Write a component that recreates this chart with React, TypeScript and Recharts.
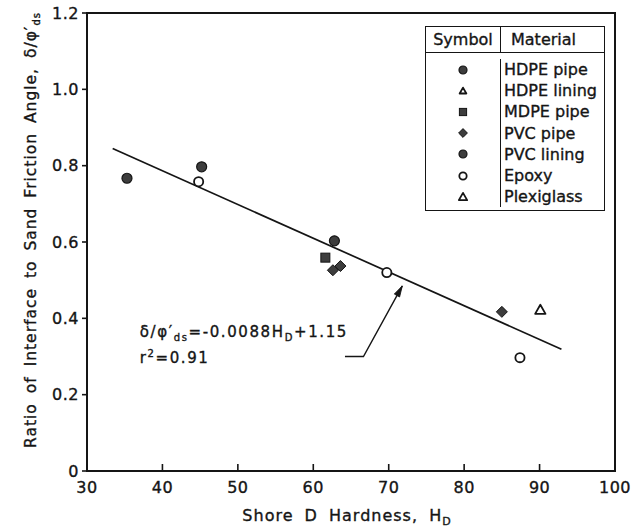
import {
  Legend,
  ReferenceArea,
  ReferenceDot,
  ReferenceLine,
  Scatter,
  ScatterChart,
  XAxis,
  YAxis,
} from 'recharts';

type Pt = { x: number; y: number };
type Kind = 'disc' | 'tri' | 'square' | 'diamond' | 'ring' | 'openTri' | 'smallTri';

const FONT = '"DejaVu Sans", sans-serif';
const INK = '#151515';
const GREY = '#3d3d3d';

// values: Shore D hardness vs delta / phi'ds
const hdpePipe: Pt[] = [{ x: 62.8, y: 0.603 }];
const hdpeLining: Pt[] = [];
const mdpePipe: Pt[] = [{ x: 61.6, y: 0.559 }];
const pvcPipe: Pt[] = [
  { x: 62.6, y: 0.526 },
  { x: 63.6, y: 0.537 },
  { x: 85.0, y: 0.417 },
];
const pvcLining: Pt[] = [
  { x: 35.3, y: 0.767 },
  { x: 45.2, y: 0.797 },
];
const epoxy: Pt[] = [
  { x: 44.8, y: 0.758 },
  { x: 69.75, y: 0.52 },
  { x: 87.4, y: 0.297 },
];
const plexiglass: Pt[] = [{ x: 90.1, y: 0.422 }];

// regression line end points and the arrow pointing at it
const fitLine: Pt[] = [
  { x: 33.4, y: 0.845 },
  { x: 92.9, y: 0.319 },
];
const arrowPath: Pt[] = [
  { x: 64.2, y: 0.3 },
  { x: 66.65, y: 0.3 },
  { x: 71.8, y: 0.485 },
];
const equationAt: Pt = { x: 37.0, y: 0.364 };

const xTicks = [30, 40, 50, 60, 70, 80, 90, 100];
const yTicks = [0, 0.2, 0.4, 0.6, 0.8, 1.0, 1.2];

const materials: { name: string; kind: Kind }[] = [
  { name: 'HDPE pipe', kind: 'disc' },
  { name: 'HDPE lining', kind: 'smallTri' },
  { name: 'MDPE pipe', kind: 'square' },
  { name: 'PVC pipe', kind: 'diamond' },
  { name: 'PVC lining', kind: 'disc' },
  { name: 'Epoxy', kind: 'ring' },
  { name: 'Plexiglass', kind: 'openTri' },
];

// the scan's lettering is heavier than a plain regular face
const HEAVY = { stroke: INK, strokeWidth: 0.35 };

function Marker({ kind, cx, cy, s = 1 }: { kind: Kind; cx: number; cy: number; s?: number }) {
  switch (kind) {
    case 'disc':
      return <circle cx={cx} cy={cy} r={5 * s} fill={GREY} stroke={INK} strokeWidth={1.2} />;
    case 'ring':
      return <circle cx={cx} cy={cy} r={4.6 * s} fill="#fff" stroke={INK} strokeWidth={1.8} />;
    case 'square':
      return (
        <rect x={cx - 4.5 * s} y={cy - 4.5 * s} width={9 * s} height={9 * s} fill={GREY} stroke={INK} strokeWidth={1} />
      );
    case 'diamond': {
      const r = 5.5 * s;
      return (
        <polygon
          points={`${cx},${cy - r} ${cx + r},${cy} ${cx},${cy + r} ${cx - r},${cy}`}
          fill={GREY}
          stroke={INK}
          strokeWidth={1}
        />
      );
    }
    case 'openTri':
    case 'smallTri': {
      const r = (kind === 'smallTri' ? 4.2 : 5.2) * s;
      return (
        <polygon
          points={`${cx},${cy - r} ${cx + r},${cy + r * 0.75} ${cx - r},${cy + r * 0.75}`}
          fill="#fff"
          stroke={INK}
          strokeWidth={1.8}
          strokeLinejoin="round"
        />
      );
    }
  }
  return null;
}

const shapeOf = (kind: Kind) => (p: any) => <Marker kind={kind} cx={p.cx} cy={p.cy} />;

function XTick(p: any) {
  const { x, y, payload } = p;
  return (
    <g>
      <line x1={x} x2={x} y1={y} y2={y - 7} stroke={INK} strokeWidth={1.6} />
      <text x={x} y={y + 22} textAnchor="middle" fill={INK} fontSize={16} fontFamily={FONT} letterSpacing={0.5} {...HEAVY}>
        {payload.value}
      </text>
    </g>
  );
}

function XLabel(p: any) {
  const vb = p.viewBox || { x: 87, y: 471, width: 528, height: 58 };
  return (
    <text
      x={vb.x + vb.width / 2 - 4}
      y={vb.y + 50}
      textAnchor="middle"
      fill={INK}
      fontSize={16}
      fontFamily={FONT}
      letterSpacing={1}
      wordSpacing={5}
      {...HEAVY}
    >
      Shore D Hardness, H
      <tspan fontSize={11} dy={4}>
        D
      </tspan>
    </text>
  );
}

function YLabel(p: any) {
  const vb = p.viewBox || { x: 0, y: 13, width: 87, height: 458 };
  const cx = vb.x + 36;
  const cy = vb.y + vb.height / 2 - 12;
  return (
    <text
      x={cx}
      y={cy}
      transform={`rotate(-90 ${cx} ${cy})`}
      textAnchor="middle"
      fill={INK}
      fontSize={15.5}
      fontFamily={FONT}
      letterSpacing={1}
      wordSpacing={4}
      {...HEAVY}
    >
      Ratio of Interface to Sand Friction Angle, δ/φ′
      <tspan fontSize={10} dy={4}>
        ds
      </tspan>
    </text>
  );
}

function Equation(p: any) {
  const { cx, cy } = p;
  return (
    <g fill={INK} fontFamily={FONT} fontSize={15} letterSpacing={1.6} {...HEAVY}>
      <text x={cx} y={cy + 5}>
        δ/φ′
        <tspan fontSize={10} dy={4}>
          ds
        </tspan>
        <tspan dy={-4}>=-0.0088H</tspan>
        <tspan fontSize={10} dy={4}>
          D
        </tspan>
        <tspan dy={-4}>+1.15</tspan>
      </text>
      <text x={cx} y={cy + 31}>
        r
        <tspan fontSize={10} dy={-6}>
          2
        </tspan>
        <tspan dy={6}>=0.91</tspan>
      </text>
    </g>
  );
}

function ArrowHead(p: any) {
  const { cx, cy } = p;
  return (
    <polygon
      points="0,0 -11,-3 -11,3"
      transform={`translate(${cx},${cy}) rotate(-61)`}
      fill={INK}
      stroke={INK}
      strokeWidth={0.8}
    />
  );
}

function MaterialTable() {
  const line = `1.6px solid ${INK}`;
  return (
    <div
      style={{
        width: 180,
        border: line,
        background: '#fff',
        fontFamily: FONT,
        fontSize: 16,
        color: INK,
        boxSizing: 'border-box',
        WebkitTextStroke: '0.35px ' + INK,
      }}
    >
      <div style={{ display: 'flex', height: 25, borderBottom: line, alignItems: 'center' }}>
        <div style={{ width: 74, textAlign: 'center', borderRight: line, height: '100%', lineHeight: '25px' }}>
          Symbol
        </div>
        <div style={{ flex: 1, paddingLeft: 10 }}>Material</div>
      </div>
      <div style={{ display: 'flex', paddingTop: 6, paddingBottom: 3 }}>
        <div style={{ width: 74, borderRight: line }}>
          {materials.map((m) => (
            <div key={m.name} style={{ height: 21.2, display: 'flex', justifyContent: 'center', alignItems: 'center' }}>
              <svg width={14} height={14}>
                <Marker kind={m.kind} cx={7} cy={7} s={0.8} />
              </svg>
            </div>
          ))}
        </div>
        <div style={{ flex: 1, paddingLeft: 3 }}>
          {materials.map((m) => (
            <div key={m.name} style={{ height: 21.2, lineHeight: '21.2px', whiteSpace: 'nowrap' }}>
              {m.name}
            </div>
          ))}
        </div>
      </div>
    </div>
  );
}

export default function App() {
  return (
    <div style={{ width: 641, height: 529, background: '#fff' }}>
      <style>{'body{margin:0;background:#fff}'}</style>
      <ScatterChart width={641} height={529} margin={{ top: 13, right: 26, bottom: 0, left: 0 }}>
        <XAxis
          type="number"
          dataKey="x"
          domain={[30, 100]}
          ticks={xTicks}
          allowDataOverflow
          height={58}
          tickSize={0}
          tickMargin={0}
          tickLine={false}
          tick={XTick}
          axisLine={{ stroke: INK, strokeWidth: 2 }}
          label={XLabel}
        />
        <YAxis
          type="number"
          dataKey="y"
          domain={[0, 1.2]}
          ticks={yTicks}
          allowDataOverflow
          width={87}
          tickSize={5}
          tickMargin={3}
          tickFormatter={(v: number) => (v === 0 ? '0' : v.toFixed(1))}
          tick={{ fill: INK, fontSize: 16, fontFamily: FONT, letterSpacing: 0.5, ...HEAVY }}
          tickLine={{ stroke: INK, strokeWidth: 1.6 }}
          axisLine={{ stroke: INK, strokeWidth: 2 }}
          label={YLabel}
        />
        <ReferenceArea x1={30} x2={100} y1={0} y2={1.2} fill="none" stroke={INK} strokeWidth={2} />
        <ReferenceLine segment={fitLine} stroke={INK} strokeWidth={1.7} />
        <Scatter data={arrowPath} line={{ stroke: INK, strokeWidth: 1.4 }} shape={() => <g />} isAnimationActive={false} />
        <ReferenceDot x={arrowPath[2].x} y={arrowPath[2].y} shape={ArrowHead} />
        <ReferenceDot x={equationAt.x} y={equationAt.y} shape={Equation} />
        <Scatter data={pvcLining} shape={shapeOf('disc')} isAnimationActive={false} />
        <Scatter data={hdpePipe} shape={shapeOf('disc')} isAnimationActive={false} />
        <Scatter data={hdpeLining} shape={shapeOf('smallTri')} isAnimationActive={false} />
        <Scatter data={mdpePipe} shape={shapeOf('square')} isAnimationActive={false} />
        <Scatter data={pvcPipe} shape={shapeOf('diamond')} isAnimationActive={false} />
        <Scatter data={epoxy} shape={shapeOf('ring')} isAnimationActive={false} />
        <Scatter data={plexiglass} shape={shapeOf('openTri')} isAnimationActive={false} />
        <Legend
          layout="horizontal"
          align="center"
          verticalAlign="middle"
          wrapperStyle={{ left: 425, top: 26, width: 180 }}
          content={() => <MaterialTable />}
        />
      </ScatterChart>
    </div>
  );
}
